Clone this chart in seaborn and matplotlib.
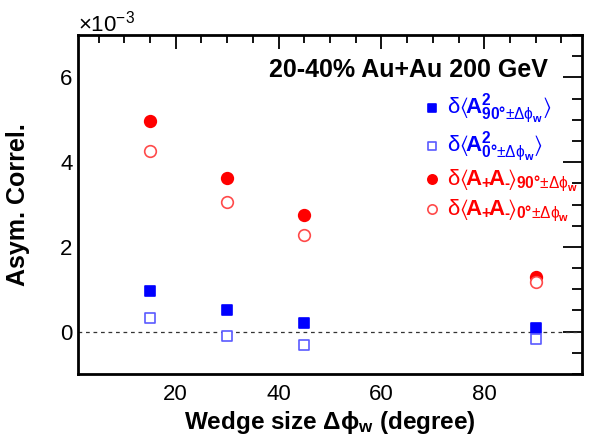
import matplotlib
matplotlib.use('Agg')
import matplotlib.pyplot as plt
from matplotlib.ticker import MultipleLocator, FuncFormatter
import seaborn as sns
import pandas as pd

# data (values in units of 1e-3)
wedge = [15, 30, 45, 90]
a2_90 = [0.97, 0.51, 0.21, 0.08]
a2_0 = [0.32, -0.11, -0.31, -0.18]
apam_90 = [4.96, 3.62, 2.75, 1.30]
apam_0 = [4.26, 3.06, 2.28, 1.18]

sub90 = r'\mathbf{90°}{\pm}\Delta\phi_{\mathbf{w}}'
sub0 = r'\mathbf{0°}{\pm}\Delta\phi_{\mathbf{w}}'
labels = [
    r'$\delta\langle\!\mathbf{A}^{\mathbf{2}}_{' + sub90 + r'}\rangle$',
    r'$\delta\langle\!\mathbf{A}^{\mathbf{2}}_{' + sub0 + r'}\rangle$',
    r'$\delta\langle\!\mathbf{A}_{\mathbf{+}}\!\mathbf{A}_{\mathbf{‐}}\!\rangle_{' + sub90 + r'}$',
    r'$\delta\langle\!\mathbf{A}_{\mathbf{+}}\!\mathbf{A}_{\mathbf{‐}}\!\rangle_{' + sub0 + r'}$',
]

sns.set_style('white')
plt.rcParams['font.family'] = ['Liberation Sans', 'DejaVu Sans']
plt.rcParams['mathtext.fontset'] = 'custom'
plt.rcParams['mathtext.rm'] = 'Liberation Sans'
plt.rcParams['mathtext.bf'] = 'Liberation Sans:bold'
plt.rcParams['mathtext.it'] = 'Liberation Sans:italic'
plt.rcParams['mathtext.default'] = 'regular'
for key in ['text.color', 'axes.labelcolor', 'xtick.color', 'ytick.color']:
    plt.rcParams[key] = 'black'

df = pd.DataFrame({'wedge': wedge, 'a2_90': a2_90, 'a2_0': a2_0,
                   'apam_90': apam_90, 'apam_0': apam_0})

fig = plt.figure(figsize=(6, 4.46), dpi=100)
ax = fig.add_axes([0.13, 0.1614, 0.84, 0.7601])

ax.axhline(0, color='#333333', lw=0.9, ls=(0, (3, 3)), zorder=1)

styles = [
    ('a2_90', 's', 'blue', 'blue', 62),
    ('a2_0', 's', 'white', '#5a5aff', 62),
    ('apam_90', 'o', 'red', 'red', 70),
    ('apam_0', 'o', 'white', '#ff4a4a', 70),
]
for (col, mk, fc, ec, sz), lab in zip(styles, labels):
    sns.scatterplot(data=df, x='wedge', y=col, marker=mk, s=sz,
                    facecolor=fc, edgecolor=ec, linewidth=1.2,
                    label=lab, ax=ax, zorder=3)

ax.set_xlim(1, 99)
ax.set_ylim(-1, 7)
ax.xaxis.set_major_locator(MultipleLocator(20))
ax.xaxis.set_minor_locator(MultipleLocator(5))
ax.yaxis.set_major_locator(MultipleLocator(2))
ax.yaxis.set_minor_locator(MultipleLocator(0.5))
ax.yaxis.set_major_formatter(FuncFormatter(lambda v, p: '%d' % v))

ax.tick_params(which='both', direction='in', top=True, right=True,
               labelsize=16, width=1.3)
ax.tick_params(axis='x', which='major', length=10, pad=7)
ax.tick_params(axis='x', which='minor', length=6)
ax.tick_params(axis='y', which='major', length=14, pad=4)
ax.tick_params(axis='y', which='minor', length=7)
for sp in ax.spines.values():
    sp.set_linewidth(2)
    sp.set_color('black')

ax.set_xlabel(r'Wedge size $\mathbf{\Delta\phi_{w}}$ (degree)',
              fontsize=17.5, fontweight='bold', labelpad=3)
ax.set_ylabel('Asym. Correl.', fontsize=18, fontweight='bold', labelpad=22)

ax.text(0.0, 1.009, r'$\times$10$^{-3}$', transform=ax.transAxes,
        fontsize=16, ha='left', va='baseline')
ax.text(0.9325, 0.897, '20-40% Au+Au 200 GeV', transform=ax.transAxes,
        fontsize=18, fontweight='bold', ha='right', va='center')

leg = ax.legend(loc='upper left', bbox_to_anchor=(0.67, 0.86), frameon=False,
                fontsize=16, handletextpad=0.3, labelspacing=0.16,
                borderaxespad=0, handlelength=0.7, markerscale=0.8)
for txt, (col, mk, fc, ec, sz) in zip(leg.get_texts(), styles):
    txt.set_color('blue' if col.startswith('a2') else 'red')

fig.savefig('out.png', dpi=100)
